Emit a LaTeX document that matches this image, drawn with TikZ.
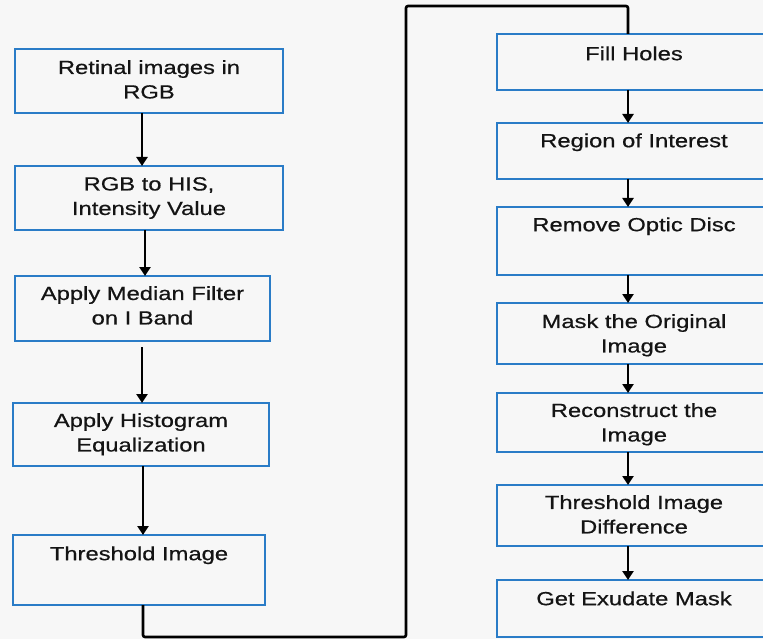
\documentclass[tikz,border=0pt]{standalone}
\usepackage{fontspec}
\newfontfamily\boxfont[FakeStretch=1.25,FakeBold=0.6]{Liberation Sans}
\usetikzlibrary{arrows.meta,calc}
\definecolor{bgc}{HTML}{F7F7F7}
\definecolor{boxblue}{HTML}{2A7CC7}
\definecolor{txtc}{HTML}{141414}
\begin{document}
\begin{tikzpicture}[x=1pt,y=-1pt,
  stepbox/.style={draw=boxblue, line width=2.6pt, fill=bgc, rectangle, inner sep=0pt, outer sep=0pt},
  txt/.style={anchor=north, inner sep=0pt, align=center, text=txtc,
    font=\boxfont\fontsize{19}{24.5}\selectfont, execute at begin node={\rule{0pt}{14pt}}},
  arr/.style={line width=2.6pt, -{Triangle[length=9pt,width=11pt]}},
  conn/.style={line width=2.6pt}]
\useasboundingbox (0,0) rectangle (763,639);
\clip (0,0) rectangle (763,639);
\fill[bgc] (0,0) rectangle (763,639);
% left column
\node[stepbox, minimum width=268pt, minimum height=64pt] (b1) at (149,81) {};
\node[stepbox, minimum width=268pt, minimum height=64pt] (b2) at (149,198) {};
\node[stepbox, minimum width=255pt, minimum height=65pt] (b3) at (142.5,308.5) {};
\node[stepbox, minimum width=256pt, minimum height=63pt] (b4) at (141,434.5) {};
\node[stepbox, minimum width=252pt, minimum height=70pt] (b5) at (139,570) {};
\node[txt] (t1) at ([yshift=-11pt]b1.north) {Retinal images in\\RGB};
\node[txt] (t2) at ([yshift=-11pt]b2.north) {RGB to HIS,\\Intensity Value};
\node[txt] (t3) at ([yshift=-10pt]b3.north) {Apply Median Filter\\on I Band};
\node[txt] (t4) at ([yshift=-10pt]b4.north) {Apply Histogram\\Equalization};
\node[txt] (t5) at ([yshift=-11pt]b5.north) {Threshold Image};
% right column
\node[stepbox, minimum width=274pt, minimum height=56pt] (r1) at (634,62) {};
\node[stepbox, minimum width=274pt, minimum height=56pt] (r2) at (634,151) {};
\node[stepbox, minimum width=274pt, minimum height=68pt] (r3) at (634,241) {};
\node[stepbox, minimum width=274pt, minimum height=61pt] (r4) at (634,333.5) {};
\node[stepbox, minimum width=274pt, minimum height=59pt] (r5) at (634,422.5) {};
\node[stepbox, minimum width=274pt, minimum height=61pt] (r6) at (634,515.5) {};
\node[stepbox, minimum width=274pt, minimum height=57pt] (r7) at (634,608.5) {};
\node[txt] (s1) at ([yshift=-12pt]r1.north) {Fill Holes};
\node[txt] (s2) at ([yshift=-10pt]r2.north) {Region of Interest};
\node[txt] (s3) at ([yshift=-10pt]r3.north) {Remove Optic Disc};
\node[txt] (s4) at ([yshift=-11pt]r4.north) {Mask the Original\\Image};
\node[txt] (s5) at ([yshift=-10pt]r5.north) {Reconstruct the\\Image};
\node[txt] (s6) at ([yshift=-10pt]r6.north) {Threshold Image\\Difference};
\node[txt] (s7) at ([yshift=-11pt]r7.north) {Get Exudate Mask};
% x positions of connectors
\coordinate (xa) at (142,0);
\coordinate (xb) at (145,0);
\coordinate (xc) at (142,0);
\coordinate (xd) at (143,0);
\coordinate (xr) at (628,0);
% left arrows
\draw[arr] (b1.south -| xa) -- (b2.north -| xa);
\draw[arr] (b2.south -| xb) -- (b3.north -| xb);
\draw[arr] ([yshift=-6pt]b3.south -| xc) -- (b4.north -| xc);
\draw[arr] (b4.south -| xd) -- (b5.north -| xd);
% long connector
\coordinate (c1) at (143,637);
\coordinate (c2) at (406,637);
\coordinate (c3) at (406,6);
\coordinate (c4) at (628,6);
\draw[conn, rounded corners=2pt] (b5.south -| xd) -- (c1) -- (c2) -- (c3) -- (c4) -- (r1.north -| xr);
% right arrows
\draw[arr] (r1.south -| xr) -- (r2.north -| xr);
\draw[arr] (r2.south -| xr) -- (r3.north -| xr);
\draw[arr] (r3.south -| xr) -- (r4.north -| xr);
\draw[arr] (r4.south -| xr) -- (r5.north -| xr);
\draw[arr] (r5.south -| xr) -- (r6.north -| xr);
\draw[arr] (r6.south -| xr) -- (r7.north -| xr);
\end{tikzpicture}
\end{document}
